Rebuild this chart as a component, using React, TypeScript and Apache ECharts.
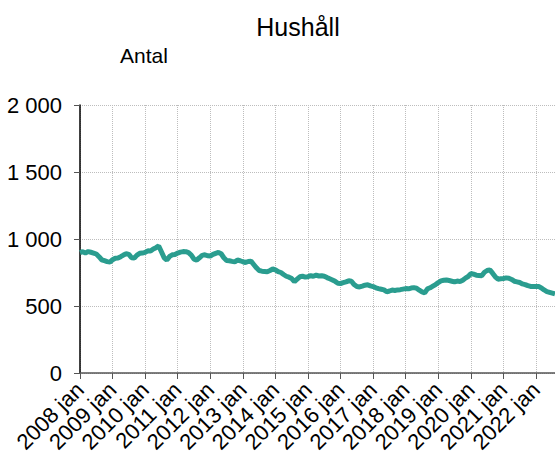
import React, { useEffect, useRef } from "react";
import * as echarts from "echarts";

const monthNames = ["jan", "feb", "mar", "apr", "maj", "jun", "jul", "aug", "sep", "okt", "nov", "dec"];
const years = [2008, 2009, 2010, 2011, 2012, 2013, 2014, 2015, 2016, 2017, 2018, 2019, 2020, 2021, 2022];

const v2008 = [898, 905, 896, 906, 901, 895, 888, 868, 845, 838, 831, 828];
const v2009 = [845, 856, 858, 868, 880, 890, 885, 860, 858, 880, 893, 895];
const v2010 = [900, 912, 910, 925, 935, 948, 905, 860, 843, 870, 882, 885];
const v2011 = [895, 902, 906, 905, 898, 880, 850, 843, 860, 878, 882, 875];
const v2012 = [873, 885, 893, 900, 890, 860, 840, 838, 833, 830, 843, 838];
const v2013 = [830, 825, 832, 835, 810, 785, 765, 760, 758, 756, 765, 776];
const v2014 = [770, 757, 750, 735, 722, 715, 705, 682, 700, 718, 722, 716];
const v2015 = [719, 726, 722, 730, 724, 726, 722, 712, 703, 694, 684, 670];
const v2016 = [668, 674, 680, 688, 685, 660, 645, 642, 648, 655, 658, 650];
const v2017 = [645, 636, 630, 625, 620, 606, 612, 619, 616, 620, 622, 626];
const v2018 = [630, 628, 634, 637, 633, 618, 605, 598, 628, 636, 648, 660];
const v2019 = [675, 687, 692, 694, 690, 685, 680, 686, 682, 692, 708, 720];
const v2020 = [742, 738, 730, 728, 726, 752, 765, 770, 745, 718, 700, 703];
const v2021 = [705, 710, 707, 698, 685, 680, 675, 665, 660, 652, 646, 645];
const v2022 = [646, 645, 635, 620, 608, 602, 596, 590];

const values = [
  ...v2008, ...v2009, ...v2010, ...v2011, ...v2012, ...v2013, ...v2014, ...v2015,
  ...v2016, ...v2017, ...v2018, ...v2019, ...v2020, ...v2021, ...v2022,
];

const categories: string[] = [];
years.forEach((y) => monthNames.forEach((m) => categories.push(`${y} ${m}`)));
const cats = categories.slice(0, values.length);

const fmt = (v: number) => String(v).replace(/\B(?=(\d{3})+(?!\d))/g, " ");

export default function App() {
  const ref = useRef<HTMLDivElement>(null);
  useEffect(() => {
    if (!ref.current) return;
    const chart = echarts.init(ref.current, null, { renderer: "svg" });
    const font = "Liberation Sans, Arial, sans-serif";
    const isJan = (i: number) => i % 12 === 0;
    chart.setOption({
      animation: false,
      textStyle: { fontFamily: font },
      title: {
        text: "Hushåll",
        left: 293,
        textAlign: "center",
        top: 9,
        textStyle: { fontSize: 25, fontWeight: "normal", color: "#000", fontFamily: font },
      },
      graphic: [
        {
          type: "text",
          left: 120,
          top: 45,
          style: { text: "Antal", fontSize: 21, fill: "#000", fontFamily: font },
        },
      ],
      grid: { left: 80, right: 0, top: 105, bottom: 84, containLabel: false },
      xAxis: {
        type: "category",
        data: cats,
        boundaryGap: false,
        axisLine: { lineStyle: { color: "#555", width: 1.5 } },
        axisTick: { interval: isJan, length: 6, lineStyle: { color: "#555" } },
        axisLabel: {
          interval: isJan,
          rotate: 45,
          fontSize: 22,
          color: "#000",
          margin: 13,
          fontFamily: font,
          formatter: (v: string) => v,
        },
        splitLine: {
          show: true,
          interval: isJan,
          lineStyle: { color: "#bdbdbd", type: "dotted", width: 1 },
        },
      },
      yAxis: {
        type: "value",
        min: 0,
        max: 2000,
        interval: 500,
        axisLine: { show: true, lineStyle: { color: "#000", width: 1.5 } },
        axisTick: { show: true, length: 6, lineStyle: { color: "#555" } },
        axisLabel: { fontSize: 22, color: "#000", margin: 18, fontFamily: font, formatter: fmt },
        splitLine: { show: true, lineStyle: { color: "#bdbdbd", type: "dotted", width: 1 } },
      },
      series: [
        {
          type: "line",
          data: values,
          showSymbol: false,
          symbol: "none",
          lineStyle: { color: "#2a9d8f", width: 5 },
          itemStyle: { color: "#2a9d8f" },
        },
      ],
    });
    return () => chart.dispose();
  }, []);
  return <div ref={ref} style={{ width: 555, height: 457, position: "absolute", left: 0, top: 0 }} />;
}
